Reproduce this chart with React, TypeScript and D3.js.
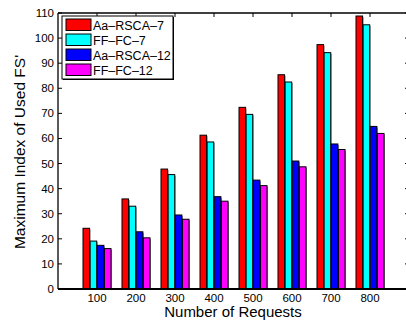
import React from 'react';
import * as d3 from 'd3';

const categories = ['100', '200', '300', '400', '500', '600', '700', '800'];
const seriesNames = ['Aa–RSCA–7', 'FF–FC–7', 'Aa–RSCA–12', 'FF–FC–12'];
const seriesColors = ['#ff0000', '#00ffff', '#0000ff', '#ff00ff'];
const aaRsca7 = [24.2, 35.9, 47.8, 61.3, 72.4, 85.4, 97.4, 108.8];
const ffFc7 = [19.1, 33, 45.6, 58.6, 69.6, 82.5, 94.2, 105.3];
const aaRsca12 = [17.4, 22.8, 29.5, 36.8, 43.4, 51, 57.8, 64.8];
const ffFc12 = [16.1, 20.4, 27.8, 35, 41.2, 48.7, 55.6, 62];
const yTicks = [0, 10, 20, 30, 40, 50, 60, 70, 80, 90, 100, 110];

const series = [aaRsca7, ffFc7, aaRsca12, ffFc12];

const App = () => {
  const width = 406;
  const height = 320;
  const margin = { top: 13, left: 58, bottom: 31 };
  const font = "'Liberation Sans', Arial, sans-serif";

  // x domain 0..900 like matlab, categories sit at 1..8
  const x = d3.scaleLinear().domain([0, 9]).range([margin.left, margin.left + 9 * 39]);
  const y = d3.scaleLinear().domain([0, 110]).range([height - margin.bottom, margin.top]);
  const inner = d3
    .scaleBand()
    .domain(d3.range(series.length).map(String))
    .range([-14, 14])
    .paddingInner(0.08);

  const x0 = x(0);
  const x1 = x(9);
  const y0 = y(0);
  const yTop = y(110);

  return (
    <svg
      width={width}
      height={height}
      style={{ position: 'absolute', left: 0, top: 0, background: '#fff' }}
    >
      <rect width={width} height={height} fill="#fff" />
      {/* bars */}
      {categories.map((c, i) => (
        <g key={c} transform={`translate(${x(i + 1)},0)`}>
          {series.map((s, k) => {
            const bx = inner(String(k)) as number;
            const bw = inner.bandwidth();
            return (
              <g key={k}>
                <rect
                  x={bx + 1}
                  y={y(s[i]) + 1}
                  width={bw}
                  height={y0 - y(s[i])}
                  fill="#888"
                />
                <rect
                  x={bx}
                  y={y(s[i])}
                  width={bw}
                  height={y0 - y(s[i])}
                  fill={seriesColors[k]}
                  stroke="#000"
                  strokeWidth={1}
                />
              </g>
            );
          })}
        </g>
      ))}
      {/* axes frame */}
      <line x1={x0} x2={x1} y1={yTop} y2={yTop} stroke="#000" strokeWidth={1.3} />
      <line x1={x0} x2={x1} y1={y0} y2={y0} stroke="#000" strokeWidth={2} />
      <line x1={x0} x2={x0} y1={yTop} y2={y0} stroke="#000" strokeWidth={1.3} />
      <line x1={x1} x2={x1} y1={yTop} y2={y0} stroke="#000" strokeWidth={1.3} />
      {yTicks.map((t) => (
        <g key={t}>
          <line x1={x0} x2={x0 + 4} y1={y(t)} y2={y(t)} stroke="#000" />
          <line x1={x1 - 4} x2={x1} y1={y(t)} y2={y(t)} stroke="#000" />
          <text
            x={x0 - 4}
            y={y(t)}
            dy="0.35em"
            textAnchor="end"
            fontFamily={font}
            fontSize={11.5}
          >
            {t}
          </text>
        </g>
      ))}
      {categories.map((c, i) => (
        <g key={c}>
          <line x1={x(i + 1)} x2={x(i + 1)} y1={yTop} y2={yTop + 4} stroke="#000" />
          <text
            x={x(i + 1)}
            y={302}
            textAnchor="middle"
            fontFamily={font}
            fontSize={11.5}
          >
            {c}
          </text>
        </g>
      ))}
      <text x={233} y={317} textAnchor="middle" fontFamily={font} fontSize={15}>
        Number of Requests
      </text>
      <text
        transform={`translate(25,152) rotate(-90)`}
        textAnchor="middle"
        fontFamily={font}
        fontSize={15.5}
      >
        Maximum Index of Used FS'
      </text>
      {/* legend */}
      <g transform="translate(62,16)">
        <rect x={1} y={1} width={111} height={63} fill="#000" />
        <rect x={0} y={0} width={111} height={63} fill="#fff" stroke="#000" strokeWidth={1} />
        {seriesNames.map((n, k) => (
          <g key={n} transform={`translate(0,${3 + k * 15})`}>
            <rect x={4} y={0} width={25} height={11.5} fill={seriesColors[k]} stroke="#000" />
            <text x={31} y={10.5} fontFamily={font} fontSize={12.5}>
              {n}
            </text>
          </g>
        ))}
      </g>
    </svg>
  );
};

export default App;
